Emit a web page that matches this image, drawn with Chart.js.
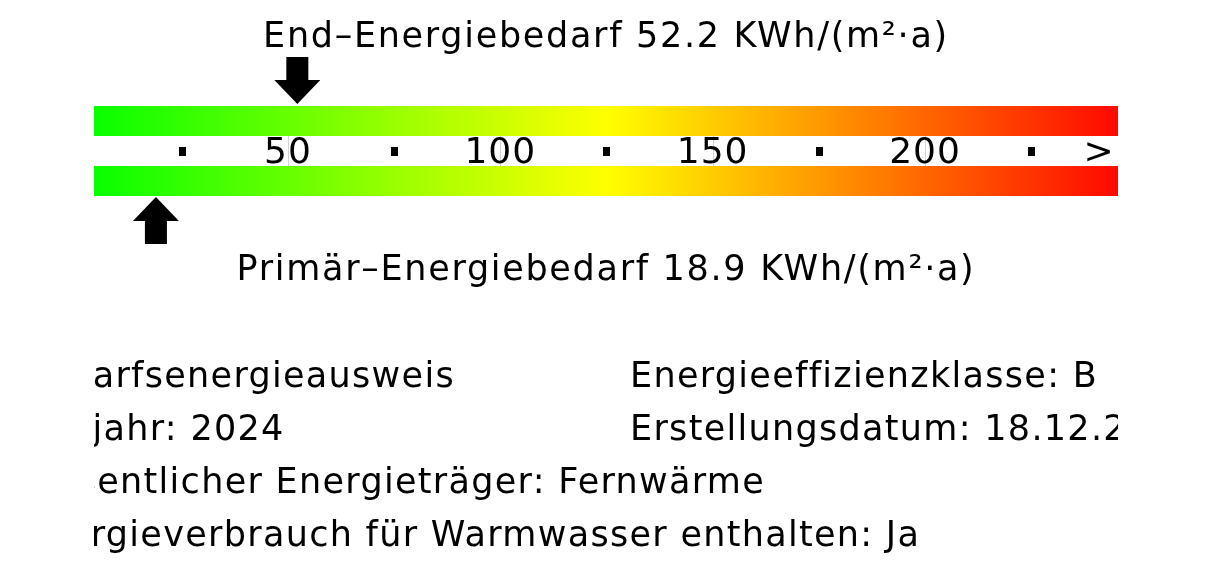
<!DOCTYPE html>
<html>
<head>
<meta charset="utf-8">
<script src="https://cdn.jsdelivr.net/npm/chart.js@4.4.1/dist/chart.umd.min.js"></script>
<style>
    html, body { margin: 0; padding: 0; background: #fff; }
    #wrap { position: absolute; left: 94px; top: 0; width: 1024px; height: 576px; }
</style>
</head>
<body>
<div id="wrap"><canvas id="energyChart" width="1024" height="576"></canvas></div>
<script>
// scale rows and their values
const rows = ['End', 'Primär'];
const rowValues = [52.2, 18.9];
const rowTitles = ['End–Energiebedarf', 'Primär–Energiebedarf'];
const unitText = 'KWh/(m²·a)';
const scaleRange = [0, 250];

// tick marks printed between the two bars
const tickValues = [25, 50, 75, 100, 125, 150, 175, 200, 225, 241];
const tickLabels = ['•', '50', '•', '100', '•', '150', '•', '200', '•', '>'];

// info lines under the scale
const infoLeft = [
    'Bedarfsenergieausweis',
    'Baujahr: 2024',
    'Wesentlicher Energieträger: Fernwärme',
    'Energieverbrauch für Warmwasser enthalten: Ja'
];
const infoRight = [
    'Energieeffizienzklasse: B',
    'Erstellungsdatum: 18.12.2024'
];

const FONT = '"DejaVu Sans", sans-serif';

function scaleGradient(context) {
    const chart = context.chart;
    const xScale = chart.scales.x;
    if (!chart.chartArea) {
        return '#ffff00';
    }
    const x0 = xScale.getPixelForValue(scaleRange[0]);
    const x1 = xScale.getPixelForValue(scaleRange[1]);
    const g = chart.ctx.createLinearGradient(x0, 0, x1, 0);
    g.addColorStop(0, '#00ff00');
    g.addColorStop(0.5, '#ffff00');
    g.addColorStop(1, '#ff0000');
    return g;
}

function drawArrow(ctx, x, tipY, dir) {
    // dir = 1 points down, -1 points up
    const headH = 24, headW = 23, stemW = 11, stemH = 23;
    ctx.beginPath();
    ctx.moveTo(x, tipY);
    ctx.lineTo(x - headW, tipY - dir * headH);
    ctx.lineTo(x - stemW, tipY - dir * headH);
    ctx.lineTo(x - stemW, tipY - dir * (headH + stemH));
    ctx.lineTo(x + stemW, tipY - dir * (headH + stemH));
    ctx.lineTo(x + stemW, tipY - dir * headH);
    ctx.lineTo(x + headW, tipY - dir * headH);
    ctx.closePath();
    ctx.fill();
}

const overlayPlugin = {
    id: 'energyOverlay',
    afterDatasetsDraw(chart) {
        const ctx = chart.ctx;
        const xScale = chart.scales.x;
        const bars = chart.getDatasetMeta(0).data;
        const topBar = bars[0], lowBar = bars[1];
        const topEdge = topBar.y + topBar.height / 2;
        const lowEdge = lowBar.y - lowBar.height / 2;
        const midY = (topEdge + lowEdge) / 2;

        ctx.save();
        // faint guide lines in the white band
        ctx.strokeStyle = '#d4d4d4';
        ctx.lineWidth = 1;
        tickValues.forEach((v, i) => {
            if (tickLabels[i] === '•' || tickLabels[i] === '>') return;
            const px = Math.round(xScale.getPixelForValue(v)) + 0.5;
            ctx.beginPath();
            ctx.moveTo(px, topEdge);
            ctx.lineTo(px, lowEdge);
            ctx.stroke();
        });

        // tick labels
        ctx.fillStyle = '#000';
        ctx.textAlign = 'center';
        ctx.textBaseline = 'middle';
        ctx.font = '36px ' + FONT;
        ctx.letterSpacing = '1px';
        tickValues.forEach((v, i) => {
            const px = xScale.getPixelForValue(v);
            if (tickLabels[i] === '•') {
                ctx.fillRect(Math.round(px) - 3, Math.round(midY) - 4, 7, 9);
            } else {
                ctx.fillText(tickLabels[i], px, midY + 3);
            }
        });

        // arrows
        drawArrow(ctx, xScale.getPixelForValue(rowValues[0]), topBar.y - topBar.height / 2 - 2, 1);
        drawArrow(ctx, xScale.getPixelForValue(rowValues[1]), lowBar.y + lowBar.height / 2 + 1, -1);

        // titles
        const cx = chart.width / 2;
        ctx.font = '35px ' + FONT;
        ctx.letterSpacing = '1.7px';
        ctx.textBaseline = 'alphabetic';
        ctx.fillText(rowTitles[0] + ' ' + rowValues[0].toFixed(1) + ' ' + unitText, cx, 47);
        ctx.fillText(rowTitles[1] + ' ' + rowValues[1].toFixed(1) + ' ' + unitText, cx, 280);

        // info block (clipped by the canvas edges like the original box)
        ctx.textAlign = 'left';
        ctx.letterSpacing = '1.3px';
        const lineGap = 53;
        infoLeft.forEach((t, i) => ctx.fillText(t, -73, 387 + i * lineGap));
        infoRight.forEach((t, i) => ctx.fillText(t, 536, 387 + i * lineGap));
        ctx.restore();
    }
};

const ctx = document.getElementById('energyChart').getContext('2d');
const energyChart = new Chart(ctx, {
    type: 'bar',
    data: {
        labels: rows,
        datasets: [{
            data: rows.map(() => scaleRange.slice()),
            backgroundColor: scaleGradient,
            borderWidth: 0,
            categoryPercentage: 1,
            barPercentage: 0.5
        }]
    },
    options: {
        indexAxis: 'y',
        responsive: false,
        devicePixelRatio: 1,
        animation: false,
        layout: { padding: { top: 91, bottom: 365, left: 0, right: 0 } },
        plugins: {
            legend: { display: false },
            tooltip: { enabled: false }
        },
        scales: {
            // visible window of the 0-250 scale (left part is cut off in the original)
            x: { type: 'linear', min: 4.32, max: 245.45, display: false },
            y: { display: false }
        }
    },
    plugins: [overlayPlugin]
});
</script>
</body>
</html>
